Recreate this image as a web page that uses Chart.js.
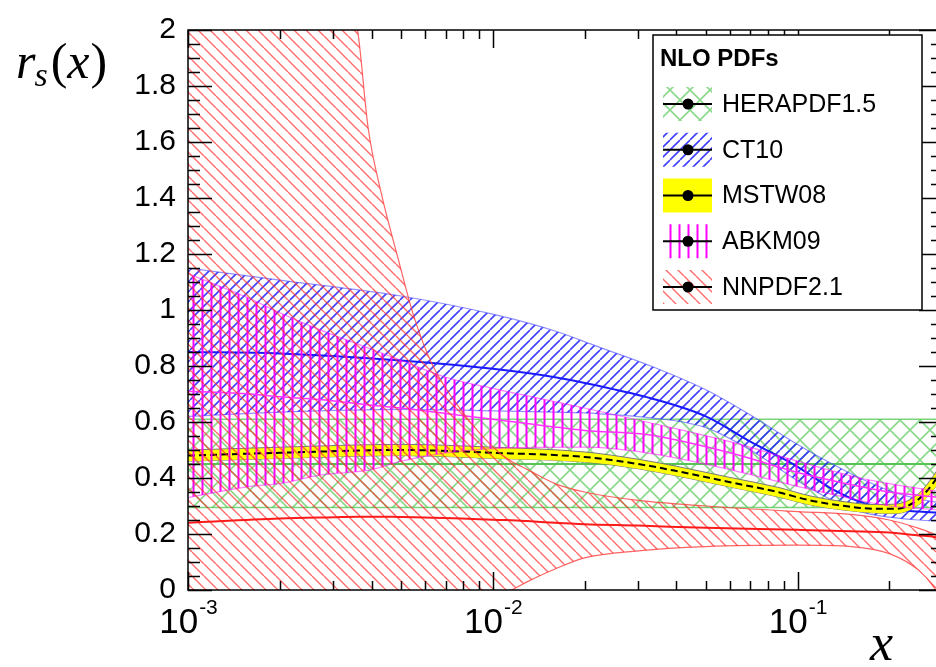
<!DOCTYPE html>
<html>
<head>
<meta charset="utf-8">
<script src="https://cdn.jsdelivr.net/npm/chart.js@4.4.1/dist/chart.umd.min.js"></script>
<style>
  html, body { margin: 0; padding: 0; background: #fff; overflow: hidden; }
  #wrap { width: 945px; height: 667px; }
</style>
</head>
<body>
<div id="wrap"><canvas id="c" width="945" height="667"></canvas></div>
<script>
// ---------- data ----------
const pdfNames = ['HERAPDF1.5', 'CT10', 'MSTW08', 'ABKM09', 'NNPDF2.1'];

// HERAPDF1.5 (flat band)
const heraX   = [0.001, 0.01, 0.1, 0.3];
const heraUp  = [0.61, 0.61, 0.61, 0.61];
const heraMid = [0.45, 0.45, 0.45, 0.45];
const heraLo  = [0.295, 0.295, 0.295, 0.295];

// CT10
const ct10X   = [0.001, 0.002, 0.005, 0.01, 0.016, 0.022, 0.033, 0.05, 0.07, 0.1, 0.13, 0.16, 0.2, 0.25, 0.3];
const ct10Up  = [1.15, 1.107, 1.05, 0.985, 0.925, 0.87, 0.80, 0.715, 0.625, 0.52, 0.45, 0.40, 0.355, 0.325, 0.31];
const ct10Mid = [0.85, 0.845, 0.82, 0.79, 0.76, 0.73, 0.685, 0.62, 0.53, 0.44, 0.36, 0.315, 0.29, 0.28, 0.275];
const ct10Lo  = [0.62, 0.635, 0.645, 0.64, 0.635, 0.63, 0.615, 0.58, 0.50, 0.39, 0.32, 0.28, 0.26, 0.25, 0.245];

// MSTW08
const mstwX   = [0.001, 0.002, 0.005, 0.01, 0.02, 0.03, 0.04, 0.06, 0.086, 0.11, 0.143, 0.18, 0.21, 0.25, 0.28, 0.3];
const mstwUp  = [0.50, 0.51, 0.52, 0.51, 0.493, 0.467, 0.442, 0.402, 0.367, 0.336, 0.315, 0.305, 0.307, 0.345, 0.41, 0.46];
const mstwMid = [0.48, 0.49, 0.50, 0.49, 0.475, 0.45, 0.425, 0.385, 0.35, 0.32, 0.30, 0.29, 0.29, 0.325, 0.385, 0.435];
const mstwLo  = [0.46, 0.47, 0.48, 0.47, 0.457, 0.433, 0.408, 0.368, 0.333, 0.304, 0.285, 0.275, 0.273, 0.305, 0.36, 0.41];

// ABKM09
const abkmX   = [0.001, 0.0016, 0.002, 0.0027, 0.004, 0.005, 0.007, 0.01, 0.02, 0.032, 0.06, 0.1, 0.16, 0.2, 0.3];
const abkmUp  = [1.13, 1.04, 0.99, 0.93, 0.86, 0.82, 0.76, 0.72, 0.65, 0.60, 0.53, 0.46, 0.40, 0.38, 0.35];
const abkmMid = [0.71, 0.70, 0.69, 0.68, 0.66, 0.65, 0.63, 0.61, 0.57, 0.555, 0.49, 0.42, 0.37, 0.35, 0.33];
const abkmLo  = [0.33, 0.37, 0.38, 0.41, 0.43, 0.46, 0.49, 0.505, 0.51, 0.49, 0.43, 0.37, 0.32, 0.30, 0.285];

// NNPDF2.1
const nnX   = [0.001, 0.002, 0.003, 0.0036, 0.0039, 0.0043, 0.0049, 0.0055, 0.0063, 0.0079, 0.0105, 0.0115, 0.013, 0.016, 0.02, 0.03, 0.05, 0.1, 0.15, 0.2, 0.25, 0.28, 0.3];
const nnUp  = [3.5, 2.8, 2.3, 2.0, 1.65, 1.42, 1.18, 0.98, 0.81, 0.64, 0.49, 0.46, 0.43, 0.38, 0.35, 0.32, 0.30, 0.28, 0.27, 0.25, 0.22, 0.20, 0.18];
const nnMid = [0.24, 0.255, 0.26, 0.262, 0.262, 0.262, 0.261, 0.26, 0.258, 0.255, 0.25, 0.249, 0.246, 0.24, 0.235, 0.23, 0.222, 0.215, 0.21, 0.205, 0.195, 0.19, 0.18];
const nnLo  = [-1.5, -0.9, -0.55, -0.45, -0.4, -0.35, -0.28, -0.23, -0.17, -0.1, -0.015, 0.0, 0.03, 0.075, 0.115, 0.14, 0.155, 0.16, 0.155, 0.13, 0.07, 0.01, -0.05];

// axes
const xMajor = [0.001, 0.01, 0.1];
const xExp   = ['-3', '-2', '-1'];
const yMajor = [0, 0.2, 0.4, 0.6, 0.8, 1, 1.2, 1.4, 1.6, 1.8, 2];

// ---------- styles ----------
const canvas = document.getElementById('c');
const ctx = canvas.getContext('2d');

function makeHatch(kind, color, size, width) {
  const c = document.createElement('canvas');
  c.width = size; c.height = size;
  const g = c.getContext('2d');
  g.strokeStyle = color;
  g.lineWidth = width;
  g.beginPath();
  if (kind === 'back' || kind === 'cross') {
    for (let k = -1; k <= 1; k++) { g.moveTo(k * size, 0); g.lineTo(k * size + size, size); }
  }
  if (kind === 'fwd' || kind === 'cross') {
    for (let k = -1; k <= 1; k++) { g.moveTo(k * size, size); g.lineTo(k * size + size, 0); }
  }
  if (kind === 'vert') { g.moveTo(size / 2, 0); g.lineTo(size / 2, size); }
  g.stroke();
  return ctx.createPattern(c, 'repeat');
}

const S = {
  hera:  { fill: makeHatch('cross', 'rgba(60,190,60,0.6)', 20, 1.6), edge: 'rgba(90,200,90,0.8)', edgeW: 1.5, line: '#55c455', lineW: 2 },
  ct10:  { fill: makeHatch('fwd', 'rgba(30,30,255,0.85)', 10, 1.6), edge: 'rgba(70,70,255,0.6)', edgeW: 1.2, line: '#1a1aff', lineW: 2 },
  mstw:  { fill: '#ffff00', edge: '#777', edgeW: 1, line: '#000', lineW: 2, dash: [7, 4] },
  abkm:  { fill: makeHatch('vert', '#ff00ff', 9, 2), edge: 'rgba(255,0,255,0.5)', edgeW: 1.2, line: '#ff33ff', lineW: 1.5 },
  nn:    { fill: makeHatch('back', 'rgba(255,45,45,0.7)', 12, 1.4), edge: 'rgba(255,60,60,0.8)', edgeW: 1.2, line: '#ff1a1a', lineW: 2 }
};

function pts(xs, ys) { return xs.map((x, i) => ({ x, y: ys[i] })); }

// central line first so it stays on top of its own band
function band(label, xs, up, mid, lo, st) {
  return [
    { label, data: pts(xs, mid), borderColor: st.line, borderWidth: st.lineW, borderDash: st.dash || [], fill: false },
    { label: label + ' up', data: pts(xs, up), borderColor: st.edge, borderWidth: st.edgeW, fill: '+1', backgroundColor: st.fill },
    { label: label + ' lo', data: pts(xs, lo), borderColor: st.edge, borderWidth: st.edgeW, fill: false }
  ];
}

const datasets = [
  ...band(pdfNames[4], nnX, nnUp, nnMid, nnLo, S.nn),
  ...band(pdfNames[3], abkmX, abkmUp, abkmMid, abkmLo, S.abkm),
  ...band(pdfNames[2], mstwX, mstwUp, mstwMid, mstwLo, S.mstw),
  ...band(pdfNames[1], ct10X, ct10Up, ct10Mid, ct10Lo, S.ct10),
  ...band(pdfNames[0], heraX, heraUp, heraMid, heraLo, S.hera)
];

// ---------- frame, ticks, labels, legend ----------
const framePlugin = {
  id: 'frame',
  afterDraw(chart) {
    const { ctx, chartArea: a, scales: { x, y } } = chart;
    ctx.save();
    ctx.strokeStyle = '#000';
    ctx.lineWidth = 1.5;
    ctx.strokeRect(a.left, a.top, a.right - a.left, a.bottom - a.top);

    // y ticks, inward on both sides
    ctx.beginPath();
    for (let i = 0; i <= 40; i++) {
      const v = i * 0.05;
      const py = Math.round(y.getPixelForValue(v)) + 0.5;
      const len = i % 4 === 0 ? 24 : 12;
      ctx.moveTo(a.left, py); ctx.lineTo(a.left + len, py);
      ctx.moveTo(a.right, py); ctx.lineTo(a.right - len, py);
    }
    // x ticks, inward top and bottom
    for (let e = -3; e <= -1; e++) {
      for (let m = 1; m <= 9; m++) {
        const v = m * Math.pow(10, e);
        if (v > x.max * 1.0001) continue;
        const px = Math.round(x.getPixelForValue(v)) + 0.5;
        const len = m === 1 ? 18 : 9;
        ctx.moveTo(px, a.bottom); ctx.lineTo(px, a.bottom - len);
        ctx.moveTo(px, a.top); ctx.lineTo(px, a.top + len);
      }
    }
    ctx.stroke();

    // x labels 10^n
    ctx.fillStyle = '#000';
    ctx.textBaseline = 'alphabetic';
    ctx.textAlign = 'left';
    xMajor.forEach((v, i) => {
      const px = x.getPixelForValue(v);
      ctx.font = '35px "Liberation Sans", Arial, sans-serif';
      const w1 = ctx.measureText('10').width;
      ctx.font = '21px "Liberation Sans", Arial, sans-serif';
      const w2 = ctx.measureText(xExp[i]).width;
      const x0 = px - (w1 + w2) / 2;
      ctx.font = '35px "Liberation Sans", Arial, sans-serif';
      ctx.fillText('10', x0, 633);
      ctx.font = '21px "Liberation Sans", Arial, sans-serif';
      ctx.fillText(xExp[i], x0 + w1 + 1, 614);
    });

    // axis titles
    const serifI = s => 'italic ' + s + 'px "Liberation Serif", "Times New Roman", serif';
    const serif = s => s + 'px "Liberation Serif", "Times New Roman", serif';
    let tx = 16;
    ctx.font = serifI(50); ctx.fillText('r', tx, 78); tx += ctx.measureText('r').width;
    ctx.font = serifI(34); ctx.fillText('s', tx - 1, 86); tx += ctx.measureText('s').width;
    ctx.font = serif(50); ctx.fillText('(', tx + 2, 78); tx += ctx.measureText('(').width + 2;
    ctx.font = serifI(50); ctx.fillText('x', tx, 78); tx += ctx.measureText('x').width;
    ctx.font = serif(50); ctx.fillText(')', tx + 1, 78);
    ctx.font = serifI(52); ctx.fillText('x', 870, 660);

    // legend
    const L = { left: 653, top: 35, right: 922, bottom: 310 };
    ctx.fillStyle = '#fff';
    ctx.fillRect(L.left, L.top, L.right - L.left, L.bottom - L.top);
    ctx.strokeStyle = '#000';
    ctx.lineWidth = 1.5;
    ctx.strokeRect(L.left, L.top, L.right - L.left, L.bottom - L.top);
    ctx.fillStyle = '#000';
    ctx.textBaseline = 'middle';
    ctx.font = 'bold 24px "Liberation Sans", Arial, sans-serif';
    ctx.fillText('NLO PDFs', 660, 59);
    const fills = [S.hera.fill, S.ct10.fill, S.mstw.fill, S.abkm.fill, S.nn.fill];
    ctx.font = '25px "Liberation Sans", Arial, sans-serif';
    pdfNames.forEach((name, i) => {
      const cy = 104 + i * 45.75;
      ctx.fillStyle = fills[i];
      ctx.fillRect(663, cy - 17, 49, 34);
      ctx.strokeStyle = '#000';
      ctx.lineWidth = 2;
      ctx.beginPath(); ctx.moveTo(663, cy); ctx.lineTo(712, cy); ctx.stroke();
      ctx.fillStyle = '#000';
      ctx.beginPath(); ctx.arc(688, cy, 5.5, 0, Math.PI * 2); ctx.fill();
      ctx.fillText(name, 722, cy + 1);
    });
    ctx.restore();
  }
};

new Chart(canvas, {
  type: 'line',
  data: { datasets },
  options: {
    responsive: false,
    animation: false,
    layout: { padding: { top: 21, right: 2, left: 0, bottom: 0 } },
    elements: {
      point: { radius: 0 },
      line: { cubicInterpolationMode: 'monotone' }
    },
    plugins: { legend: { display: false }, tooltip: { enabled: false } },
    scales: {
      x: {
        type: 'logarithmic', min: 0.001, max: 0.3,
        grid: { display: false, drawTicks: false },
        border: { display: false },
        ticks: { display: false },
        afterFit: s => { s.height = 77; }
      },
      y: {
        min: 0, max: 2,
        grid: { display: false, drawTicks: false },
        border: { display: false },
        ticks: {
          stepSize: 0.2, autoSkip: false, padding: 12, color: '#000',
          font: { family: '"Liberation Sans", Arial, sans-serif', size: 30 },
          callback: v => String(+v.toFixed(1))
        },
        afterFit: s => { s.width = 188; }
      }
    }
  },
  plugins: [framePlugin]
});
</script>
</body>
</html>
